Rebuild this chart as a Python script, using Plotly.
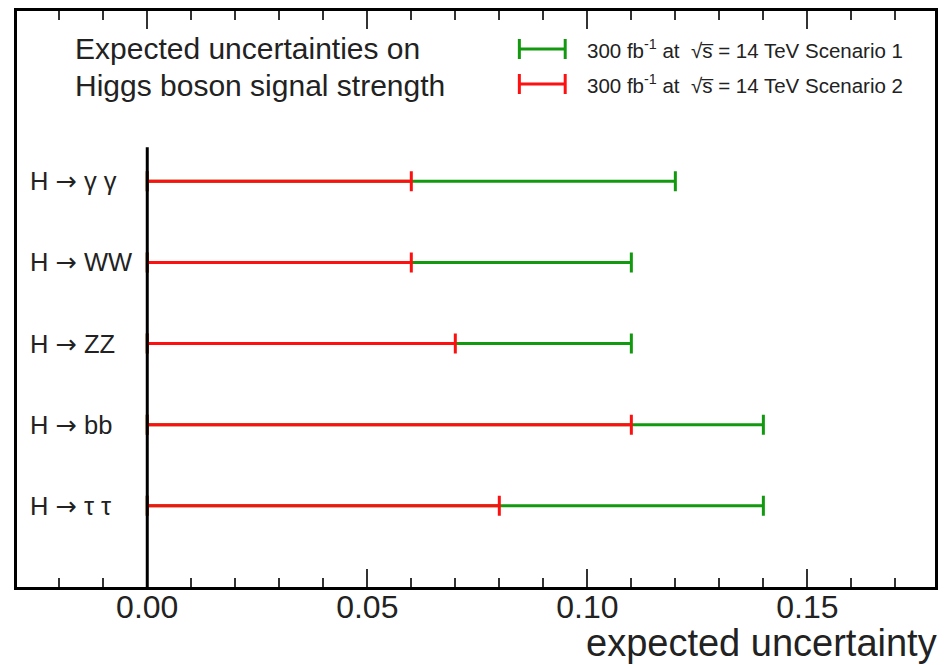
import plotly.graph_objects as go

# ---- data ----
categories = ["H <span style='font-family:DejaVu Sans'>\u2192</span> \u03b3 \u03b3",
              "H <span style='font-family:DejaVu Sans'>\u2192</span> WW",
              "H <span style='font-family:DejaVu Sans'>\u2192</span> ZZ",
              "H <span style='font-family:DejaVu Sans'>\u2192</span> bb",
              "H <span style='font-family:DejaVu Sans'>\u2192</span> \u03c4 \u03c4"]
cat_pos = [5, 4, 3, 2, 1]
scenario1 = [0.12, 0.11, 0.11, 0.14, 0.14]
scenario2 = [0.06, 0.06, 0.07, 0.11, 0.08]
series_names = ["300 fb<sup>-1</sup> at  \u221as\u0305 = 14 TeV Scenario 1",
                "300 fb<sup>-1</sup> at  \u221as\u0305 = 14 TeV Scenario 2"]
title_lines = ["Expected uncertainties on", "Higgs boson signal strength"]
x_title = "expected uncertainty"

GREEN = "#12990f"
RED = "#ff1010"
FONT = "Liberation Sans, Arial, sans-serif"

W, H = 944, 665
ML, MR, MT, MB = 17, 6, 11, 78
PW, PH = W - ML - MR, H - MT - MB


def px(x):
    return (x - ML) / PW


def py(y):
    return 1 - (y - MT) / PH


fig = go.Figure()

for vals, col in [(scenario1, GREEN), (scenario2, RED)]:
    fig.add_trace(go.Scatter(
        x=[0] * len(vals), y=cat_pos, mode="markers",
        marker=dict(size=1, color="rgba(0,0,0,0)"),
        error_x=dict(type="data", symmetric=False, array=vals,
                     arrayminus=[0] * len(vals), color=col,
                     thickness=3, width=10),
        showlegend=False, hoverinfo="skip"))

shapes = []
# y axis line at x=0
shapes.append(dict(type="line", xref="x", yref="y", x0=0, x1=0, y0=0, y1=5.42,
                   line=dict(color="black", width=3), layer="above"))

annotations = []
for c, p in zip(categories, cat_pos):
    annotations.append(dict(text=c, x=px(28), xref="paper", y=p, yref="y",
                            xanchor="left", yanchor="middle", showarrow=False,
                            font=dict(size=25.5, color="#222", family=FONT)))

# title lines
for t, yy in zip(title_lines, [48, 85]):
    annotations.append(dict(text=t, x=px(73), y=py(yy), xref="paper", yref="paper",
                            xanchor="left", yanchor="middle", showarrow=False,
                            font=dict(size=30, color="#222", family=FONT)))

# legend
for name, col, yy in zip(series_names, [GREEN, RED], [49, 84]):
    shapes.append(dict(type="line", xref="paper", yref="paper",
                       x0=px(521), x1=px(567), y0=py(yy), y1=py(yy),
                       line=dict(color=col, width=3)))
    for xx in (521, 567):
        shapes.append(dict(type="line", xref="paper", yref="paper",
                           x0=px(xx), x1=px(xx), y0=py(yy - 10), y1=py(yy + 10),
                           line=dict(color=col, width=3)))
    annotations.append(dict(text=name, x=px(587), y=py(yy), xref="paper", yref="paper",
                            xanchor="left", yanchor="middle", showarrow=False,
                            font=dict(size=20.5, color="#222", family=FONT)))

annotations.append(dict(text=x_title, x=px(942), y=py(643), xref="paper", yref="paper",
                        xanchor="right", yanchor="middle", showarrow=False,
                        font=dict(size=38, color="#222", family=FONT)))

fig.update_layout(
    width=W, height=H, margin=dict(l=ML, r=MR, t=MT, b=MB),
    plot_bgcolor="white", paper_bgcolor="white",
    shapes=shapes, annotations=annotations, showlegend=False,
    xaxis=dict(range=[-0.0296, 0.179], tick0=0, dtick=0.05, tickformat=".2f",
               ticks="inside", ticklen=18, tickwidth=1.5, tickcolor="#333",
               showline=True, linewidth=3, linecolor="black", mirror="allticks",
               showgrid=False, zeroline=False, ticklabelstandoff=-10,
               tickfont=dict(size=32, color="#222", family=FONT),
               minor=dict(dtick=0.01, tick0=0, ticks="inside", ticklen=9,
                          tickwidth=1.5, tickcolor="#333", showgrid=False)),
    yaxis=dict(range=[0, 7.1], showline=True, linewidth=3, linecolor="black",
               mirror=True, ticks="", showticklabels=False, showgrid=False,
               zeroline=False),
)

fig.write_html("out.html", config={"displayModeBar": False},
               post_script="document.body.style.margin='0';document.body.style.overflow='hidden';")
